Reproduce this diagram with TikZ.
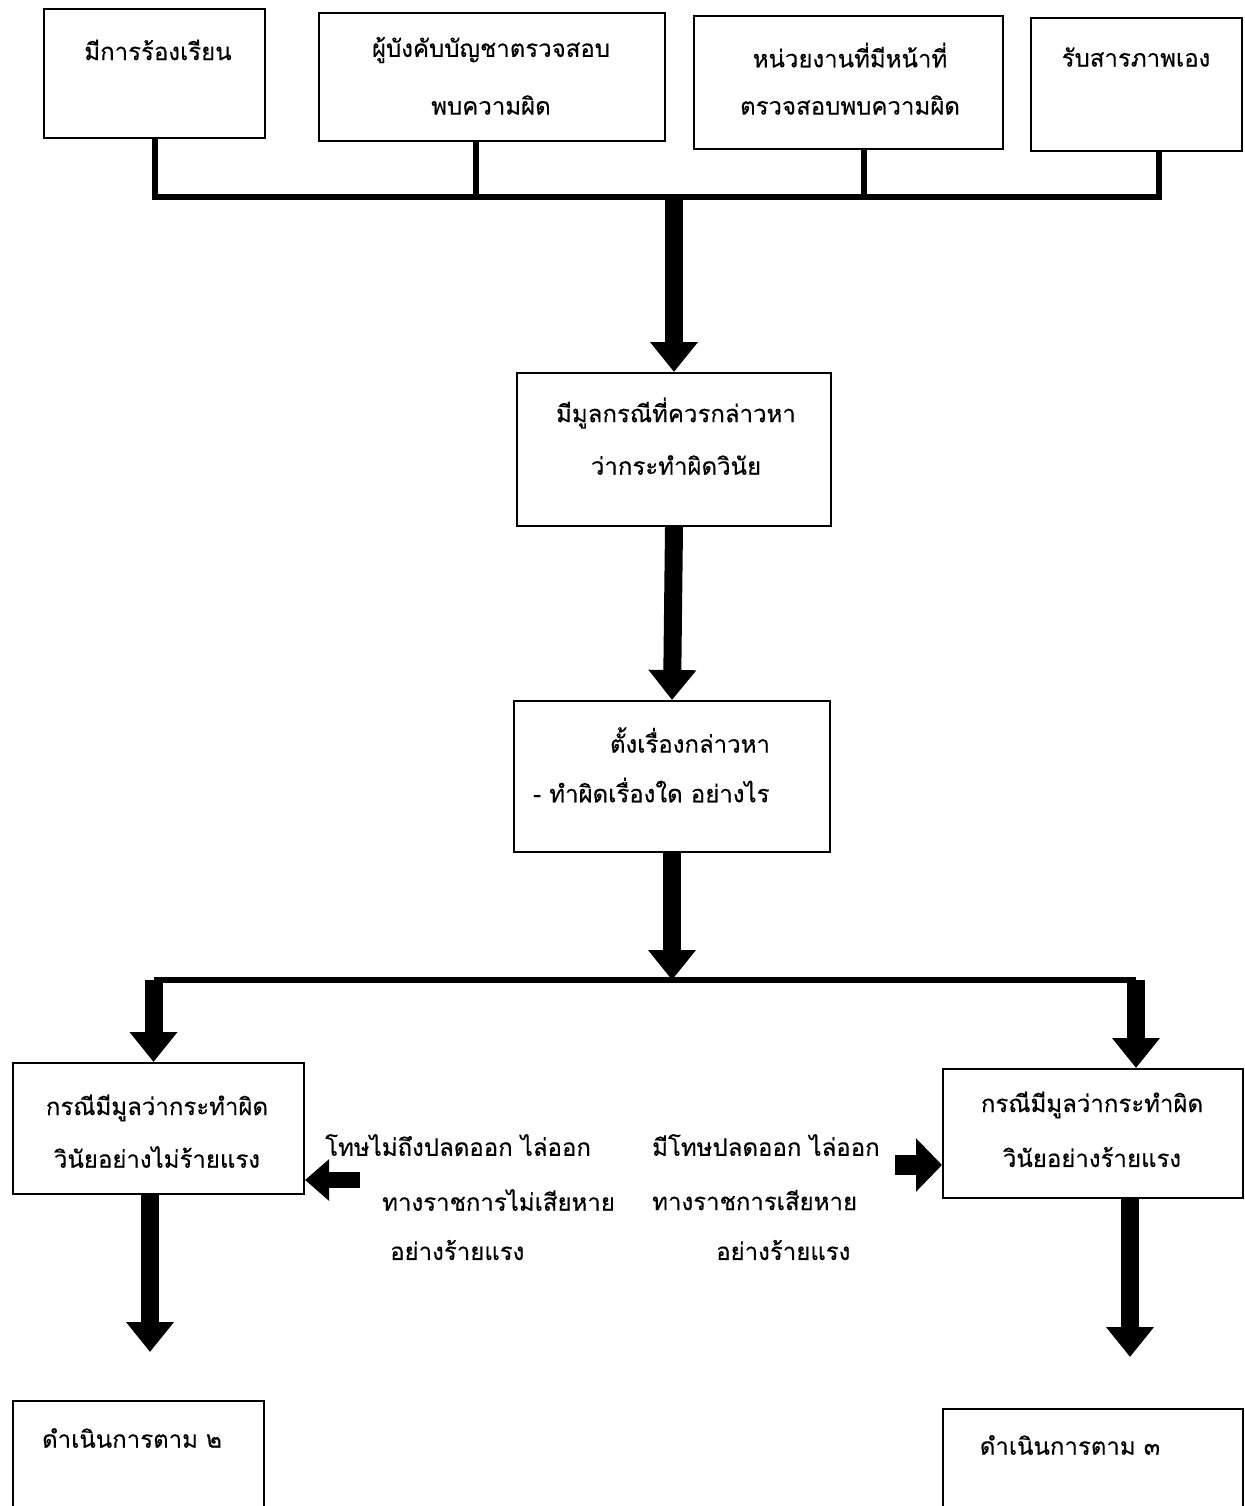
\documentclass[tikz,border=0pt]{standalone}
\usepackage{fontspec}
\newfontfamily\thai[Script=Thai, FakeBold=0.3]{Loma}
\usetikzlibrary{arrows.meta}
\tikzset{
  box/.style={draw, line width=2pt, anchor=north west, inner sep=0pt},
  bar/.style={line width=6pt},
  bigarrow/.style={line width=18pt, -{Triangle[width=46pt,length=30pt]}},
  sidearrow/.style={line width=20pt, -{Triangle[width=52pt,length=26pt]}},
  txt/.style={font=\thai\fontsize{24}{28}\selectfont, inner sep=0pt},
}
\begin{document}
\begin{tikzpicture}[x=1pt,y=-1pt]
\clip (0,0) rectangle (1244,1506);
\fill[white] (0,0) rectangle (1244,1506);
% top boxes
\node[box, minimum width=221pt, minimum height=129pt] (b1) at (43,8) {};
\node[box, minimum width=346pt, minimum height=128pt] (b2) at (318,12) {};
\node[box, minimum width=309pt, minimum height=133pt] (b3) at (693,15) {};
\node[box, minimum width=211pt, minimum height=133pt] (b4) at (1030,17) {};
\node[txt] (t1) at (158,50) {มีการร้องเรียน};
\node[txt] (t2a) at (491,50) {ผู้บังคับบัญชาตรวจสอบ};
\node[txt] (t2b) at (491,105) {พบความผิด};
\node[txt] (t3a) at (850,55) {หน่วยงานที่มีหน้าที่};
\node[txt] (t3b) at (850,105) {ตรวจสอบพบความผิด};
\node[txt] (t4) at (1136,57) {รับสารภาพเอง};
% middle boxes
\node[box, minimum width=314pt, minimum height=153pt] (b5) at (516,372) {};
\node[txt] (t5a) at (676,413) {มีมูลกรณีที่ควรกล่าวหา};
\node[txt] (t5b) at (676,465) {ว่ากระทำผิดวินัย};
\node[box, minimum width=316pt, minimum height=151pt] (b6) at (513,700) {};
\node[txt] (t6a) at (690,740) {ตั้งเรื่องกล่าวหา};
\node[txt, anchor=west] (t6b) at (533,790) {- ทำผิดเรื่องใด อย่างไร};
% case boxes
\node[box, minimum width=291pt, minimum height=131pt] (b7) at (12,1062) {};
\node[txt] (t7a) at (157,1108) {กรณีมีมูลว่ากระทำผิด};
\node[txt] (t7b) at (157,1157) {วินัยอย่างไม่ร้ายแรง};
\node[box, minimum width=300pt, minimum height=129pt] (b8) at (942,1068) {};
\node[txt] (t8a) at (1092,1105) {กรณีมีมูลว่ากระทำผิด};
\node[txt] (t8b) at (1092,1157) {วินัยอย่างร้ายแรง};
% labels
\node[txt, anchor=west] (L1) at (325,1145) {โทษไม่ถึงปลดออก ไล่ออก};
\node[txt, anchor=west] (L2) at (382,1200) {ทางราชการไม่เสียหาย};
\node[txt, anchor=west] (L3) at (390,1250) {อย่างร้ายแรง};
\node[txt, anchor=west] (R1) at (652,1145) {มีโทษปลดออก ไล่ออก};
\node[txt, anchor=west] (R2) at (652,1200) {ทางราชการเสียหาย};
\node[txt, anchor=west] (R3) at (716,1250) {อย่างร้ายแรง};
% bottom boxes
\node[box, minimum width=251pt, minimum height=140pt] (b9) at (12,1400) {};
\node[txt] (t9) at (132,1438) {ดำเนินการตาม ๒};
\node[box, minimum width=300pt, minimum height=140pt] (b10) at (942,1408) {};
\node[txt] (t10) at (1070,1445) {ดำเนินการตาม ๓};
% coordinates
\coordinate (busy) at (0,197);
\coordinate (bus2y) at (0,980);
\coordinate (p2) at ([xshift=-16pt]b2.south);
\coordinate (p3) at ([xshift=15pt]b3.south);
\coordinate (p4) at ([xshift=22pt]b4.south);
\coordinate (j1) at (b5.north |- busy);
\coordinate (j2) at (b6.south |- bus2y);
\coordinate (j3L) at ([xshift=-5pt]b7.north |- bus2y);
\coordinate (j3R) at ([xshift=43pt]b8.north |- bus2y);
\coordinate (e1) at (150,1352);
\coordinate (e2) at (1130,1357);
\coordinate (s1) at (360,1180);
\coordinate (s2) at (895,1165);
% top bus
\draw[bar] (b1.south) |- (p4 |- busy) -- (p4);
\draw[bar] (p2) -- (p2 |- busy);
\draw[bar] (p3) -- (p3 |- busy);
% arrows
\draw[bigarrow] (j1) -- (b5.north);
\draw[bigarrow] (b5.south) -- (b6.north);
\draw[bigarrow] (b6.south) -- (j2);
\draw[bar] (j3L) -- (j3R);
\draw[bigarrow] (j3L) -- (j3L |- b7.north);
\draw[bigarrow] (j3R) -- (j3R |- b8.north);
\draw[bigarrow] (b7.south -| e1) -- (e1);
\draw[bigarrow] (b8.south -| e2) -- (e2);
\draw[sidearrow, line width=16pt, -{Triangle[width=40pt,length=24pt]}] (s1) -- (s1 -| b7.east);
\draw[sidearrow] (s2) -- (s2 -| b8.west);
\end{tikzpicture}
\end{document}
